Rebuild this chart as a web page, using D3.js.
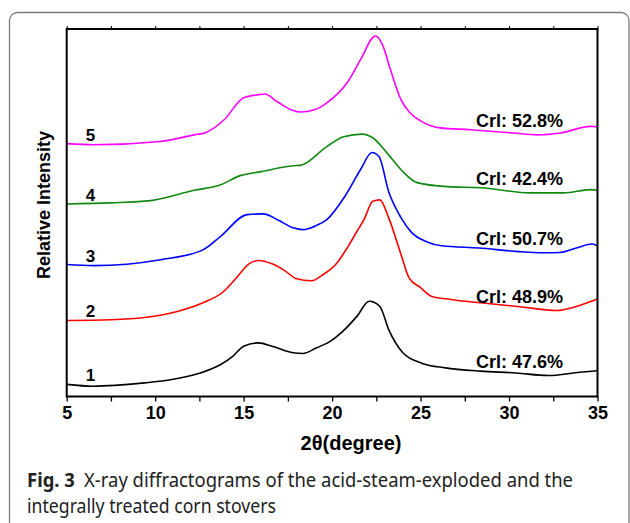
<!DOCTYPE html>
<html>
<head>
<meta charset="utf-8">
<script src="https://cdnjs.cloudflare.com/ajax/libs/d3/7.8.5/d3.min.js"></script>
<style>
body { margin: 0; background: #fff; }
svg { display: block; }
</style>
</head>
<body>
<div class="content"></div>
<script>
// 2theta (degree) and relative intensity (a.u.)
var theta1 = [5.0, 6.5, 9.4, 10.7, 12.5, 13.7, 14.4, 15.0, 15.85, 16.6, 17.8, 18.35, 19.1, 19.9, 20.6, 21.4, 22.1, 22.7, 23.2, 24.0, 25.1, 26.4, 28.4, 30.4, 32.2, 34.0, 35.0];
var int1 = [3.3, 2.8, 3.7, 4.4, 6.3, 8.7, 11.0, 13.7, 14.6, 13.7, 11.9, 11.7, 13.2, 15.0, 17.7, 21.8, 25.9, 24.5, 18.2, 11.9, 9.0, 7.8, 6.9, 6.4, 5.7, 6.6, 7.0];

var theta2 = [5.0, 7.5, 9.4, 11.3, 12.7, 13.8, 14.6, 15.3, 15.85, 16.6, 17.4, 17.95, 18.85, 19.4, 20.2, 20.9, 21.4, 21.8, 22.3, 22.7, 23.2, 23.9, 24.35, 25.0, 25.6, 26.7, 28.4, 30.5, 32.7, 33.8, 35.0];
var int2 = [20.7, 20.9, 21.5, 23.2, 25.5, 28.3, 32.3, 36.1, 37.0, 36.1, 34.0, 32.1, 31.5, 32.9, 35.9, 40.8, 44.9, 48.1, 53.1, 53.5, 48.6, 38.6, 32.3, 29.6, 27.3, 26.4, 25.5, 24.5, 23.4, 24.5, 26.5];

var theta3 = [5.0, 6.5, 10.3, 12.7, 13.7, 15.2, 16.1, 17.0, 17.8, 18.35, 19.1, 19.7, 20.7, 21.6, 22.25, 22.65, 23.2, 23.9, 24.5, 25.3, 26.2, 28.3, 30.4, 31.9, 32.9, 33.8, 34.7, 35.0];
var int3 = [35.9, 35.6, 37.2, 39.9, 43.6, 49.5, 49.7, 47.9, 45.9, 45.4, 46.5, 48.1, 54.3, 61.7, 66.4, 65.3, 55.7, 48.6, 44.6, 42.2, 41.0, 40.4, 39.5, 39.1, 39.2, 40.4, 41.5, 41.0];

var theta4 = [5.0, 7.5, 9.75, 12.2, 13.7, 14.8, 16.0, 17.8, 18.2, 19.7, 20.65, 21.7, 22.3, 23.1, 23.9, 24.8, 26.5, 28.4, 31.2, 33.1, 34.6, 35.0];
var int4 = [52.4, 52.7, 53.3, 56.1, 57.6, 60.1, 61.2, 62.8, 62.9, 68.0, 70.7, 71.4, 70.4, 66.3, 61.7, 58.2, 57.1, 56.8, 55.4, 55.4, 56.3, 56.1];

var theta5 = [5.0, 6.5, 10.3, 12.2, 12.85, 13.9, 15.0, 15.8, 16.2, 16.9, 17.8, 18.2, 19.0, 19.7, 20.9, 21.6, 22.45, 22.85, 23.3, 23.9, 24.4, 25.0, 26.1, 27.8, 30.25, 31.6, 32.9, 34.6, 35.0];
var int5 = [68.8, 68.5, 69.4, 71.2, 71.8, 75.3, 81.3, 82.1, 82.3, 80.2, 77.8, 77.4, 78.0, 79.9, 85.7, 91.6, 98.1, 95.7, 88.9, 80.7, 77.2, 75.0, 73.1, 72.6, 71.7, 71.2, 71.7, 73.5, 73.4];

var sampleNames = ["1", "2", "3", "4", "5"];
var crlLabels = ["Crl: 47.6%", "Crl: 48.9%", "Crl: 50.7%", "Crl: 42.4%", "Crl: 52.8%"];
var colors = ["#000000", "#ff0000", "#0000ff", "#118811", "#ff00ff"];
var xTicks = [5, 10, 15, 20, 25, 30, 35];

var W = 630, H = 523;
var plotLeft = 66.7, plotRight = 597.5, plotTop = 29, plotBottom = 396.5;
var labelFont = 'Liberation Sans, Arial, sans-serif';

var svg = d3.select('.content').append('svg')
    .attr('width', W)
    .attr('height', H);

// rounded figure box
svg.append('rect')
    .attr('x', 9.5).attr('y', 12.5)
    .attr('width', 619.5).attr('height', 600)
    .attr('rx', 8)
    .attr('fill', 'none')
    .attr('stroke', '#7a7a7a')
    .attr('stroke-width', 1.3);

var x = d3.scaleLinear().domain([5, 35]).range([plotLeft, plotRight]);
var y = d3.scaleLinear().domain([0, 100]).range([plotBottom, plotTop]);

var minorTicks = d3.range(5, 35.01, 2.5);

// bottom axis
var xAxis = d3.axisBottom(x).tickValues(minorTicks).tickSize(5).tickPadding(5)
    .tickFormat(function (d) { return xTicks.indexOf(d) >= 0 ? d : ''; });
var gx = svg.append('g').attr('transform', 'translate(0,' + plotBottom + ')').call(xAxis);
gx.select('.domain').remove();
gx.selectAll('line').attr('stroke', '#000').attr('stroke-width', 1.3);
gx.selectAll('text')
    .attr('fill', '#000')
    .style('font-family', labelFont)
    .style('font-size', '18px')
    .style('font-weight', 'bold');

// top axis ticks
var gt = svg.append('g').attr('transform', 'translate(0,' + plotTop + ')')
    .call(d3.axisTop(x).tickValues(minorTicks).tickSize(3).tickFormat(''));
gt.select('.domain').remove();
gt.selectAll('line').attr('stroke', '#000').attr('stroke-width', 1);

var series = [
    { t: theta1, v: int1 },
    { t: theta2, v: int2 },
    { t: theta3, v: int3 },
    { t: theta4, v: int4 },
    { t: theta5, v: int5 }
];

var line = d3.line()
    .x(function (d) { return x(d[0]); })
    .y(function (d) { return y(d[1]); })
    .curve(d3.curveMonotoneX);

series.forEach(function (s, i) {
    var pts = s.t.map(function (t, j) { return [t, s.v[j]]; });
    svg.append('path')
        .attr('d', line(pts))
        .attr('fill', 'none')
        .attr('stroke', colors[i])
        .attr('stroke-width', 1.6)
        .attr('stroke-linejoin', 'round');

    // sample number above curve start
    svg.append('text')
        .attr('x', x(6.35))
        .attr('y', y(s.v[0]) - 3)
        .attr('text-anchor', 'middle')
        .style('font-family', labelFont)
        .style('font-size', '17px')
        .style('font-weight', 'bold')
        .text(sampleNames[i]);

    // crystallinity label above curve tail
    svg.append('text')
        .attr('x', 476)
        .attr('y', y(d3.min(s.v.slice(-5))) - 8)
        .style('font-family', labelFont)
        .style('font-size', '18px')
        .style('font-weight', 'bold')
        .text(crlLabels[i]);
});

// frame
svg.append('rect')
    .attr('x', plotLeft).attr('y', plotTop)
    .attr('width', plotRight - plotLeft).attr('height', plotBottom - plotTop)
    .attr('fill', 'none')
    .attr('stroke', '#000')
    .attr('stroke-width', 2);

// axis titles
svg.append('text')
    .attr('x', 351).attr('y', 450)
    .attr('text-anchor', 'middle')
    .style('font-family', labelFont)
    .style('font-size', '20px')
    .style('font-weight', 'bold')
    .text('2θ(degree)');

svg.append('text')
    .attr('transform', 'translate(50,205) rotate(-90)')
    .attr('text-anchor', 'middle')
    .style('font-family', labelFont)
    .style('font-size', '18px')
    .style('font-weight', 'bold')
    .text('Relative Intensity');

// caption
var cap = svg.append('text')
    .attr('x', 27).attr('y', 487)
    .attr('textLength', 546)
    .attr('lengthAdjust', 'spacingAndGlyphs')
    .style('font-family', 'Noto Sans, sans-serif')
    .style('font-size', '19px')
    .attr('fill', '#222');
cap.append('tspan').style('font-weight', 'bold').text('Fig. 3');
cap.append('tspan').text('\u2002X-ray diffractograms of the acid-steam-exploded and the');

svg.append('text')
    .attr('x', 27).attr('y', 513)
    .attr('textLength', 249)
    .attr('lengthAdjust', 'spacingAndGlyphs')
    .style('font-family', 'Noto Sans, sans-serif')
    .style('font-size', '19px')
    .attr('fill', '#222')
    .text('integrally treated corn stovers');
</script>
</body>
</html>
